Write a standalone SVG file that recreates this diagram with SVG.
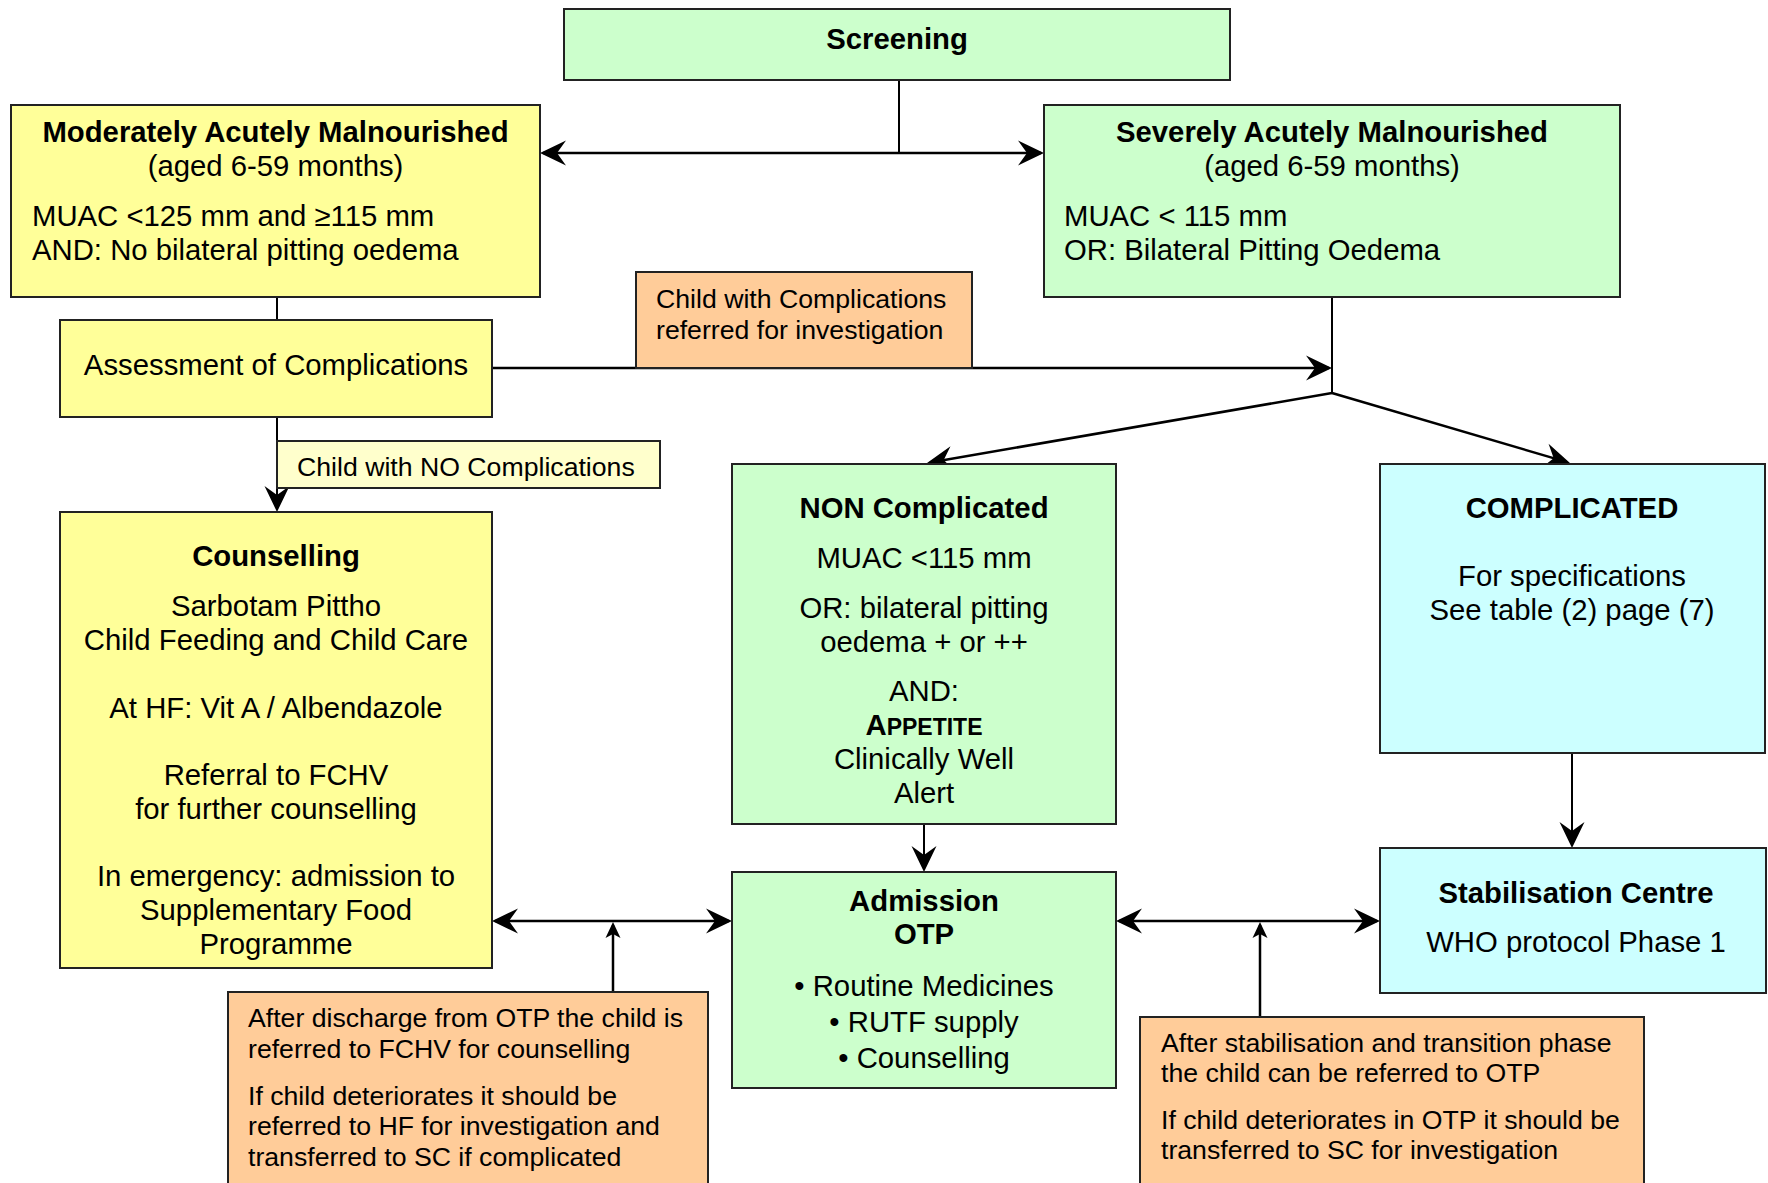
<svg xmlns="http://www.w3.org/2000/svg" width="1768" height="1183" viewBox="0 0 1768 1183">
<style>
text{font-family:"Liberation Sans",Arial,sans-serif;fill:#000}
.t{font-size:29.3px}
.s{font-size:26.67px}
.b{font-weight:bold}
.m{text-anchor:middle}
.box{stroke:#222;stroke-width:2}
.g{fill:#CCFFCC}.y{fill:#FFFF99}.ly{fill:#FFFFCC}.o{fill:#FFCC99}.c{fill:#CCFFFF}
.ln{stroke:#000;stroke-width:2.5;fill:none}
.a2{marker-start:url(#ah);marker-end:url(#ah)}
.a1{marker-end:url(#ah)}
.au{marker-end:url(#as)}
</style>
<defs>
<marker id="ah" viewBox="-30 -14 32 28" refX="-3" refY="0" markerWidth="32" markerHeight="28" markerUnits="userSpaceOnUse" orient="auto-start-reverse">
<path d="M0,0 L-26,-12.5 L-17,0 L-26,12.5 Z" fill="#000"/>
</marker>
<marker id="as" viewBox="-20 -10 22 20" refX="-3" refY="0" markerWidth="22" markerHeight="20" markerUnits="userSpaceOnUse" orient="auto">
<path d="M0,0 L-16,-7.5 L-12,0 L-16,7.5 Z" fill="#000"/>
</marker>
</defs>
<rect width="1768" height="1183" fill="#fff"/>
<g id="connectors">
<line class="ln" x1="899" y1="80" x2="899" y2="153" style="stroke-width:2"/>
<line class="ln a2" x1="543" y1="153" x2="1041" y2="153"/>
<line class="ln" x1="277" y1="297" x2="277" y2="320" style="stroke-width:2"/>
<line class="ln a1" x1="492" y1="368" x2="1329" y2="368"/>
<line class="ln" x1="1332" y1="297" x2="1332" y2="393" style="stroke-width:2"/>
<line class="ln a1" x1="1332" y1="393" x2="929.96" y2="462.49"/>
<line class="ln a1" x1="1332" y1="393" x2="1567.1" y2="462.15"/>
<line class="ln a1" x1="277" y1="417" x2="277" y2="509" style="stroke-width:2"/>
<line class="ln a1" x1="924" y1="824" x2="924" y2="869" style="stroke-width:2"/>
<line class="ln a1" x1="1572" y1="753" x2="1572" y2="845" style="stroke-width:2"/>
<line class="ln a2" x1="495" y1="921" x2="729" y2="921"/>
<line class="ln au" x1="613" y1="992" x2="613" y2="925"/>
<line class="ln a2" x1="1119" y1="921" x2="1377" y2="921"/>
<line class="ln au" x1="1260" y1="1017" x2="1260" y2="925"/>
</g>
<g id="screening">
<rect class="box g" x="564" y="9" width="666" height="71"/>
<text class="t b m" x="897" y="49">Screening</text>
</g>
<g id="mam">
<rect class="box y" x="11" y="105" width="529" height="192"/>
<text class="t b m" x="275.5" y="142">Moderately Acutely Malnourished</text>
<text class="t m" x="275.5" y="176">(aged 6-59 months)</text>
<text class="t" x="32" y="226">MUAC &lt;125 mm and ≥115 mm</text>
<text class="t" x="32" y="260">AND: No bilateral pitting oedema</text>
</g>
<g id="sam">
<rect class="box g" x="1044" y="105" width="576" height="192"/>
<text class="t b m" x="1332" y="142">Severely Acutely Malnourished</text>
<text class="t m" x="1332" y="176">(aged 6-59 months)</text>
<text class="t" x="1064" y="226">MUAC &lt; 115 mm</text>
<text class="t" x="1064" y="260">OR: Bilateral Pitting Oedema</text>
</g>
<g id="complications-referred">
<rect class="box o" x="636" y="272" width="336" height="96"/>
<text class="s" x="656" y="308">Child with Complications</text>
<text class="s" x="656" y="339">referred for investigation</text>
</g>
<g id="assessment">
<rect class="box y" x="60" y="320" width="432" height="97"/>
<text class="t m" x="276" y="375">Assessment of Complications</text>
</g>
<g id="no-complications">
<rect class="box ly" x="277" y="441" width="383" height="47"/>
<text class="s" x="297" y="476">Child with NO Complications</text>
</g>
<g id="counselling">
<rect class="box y" x="60" y="512" width="432" height="456"/>
<text class="t b m" x="276" y="566">Counselling</text>
<text class="t m" x="276" y="616">Sarbotam Pittho</text>
<text class="t m" x="276" y="650">Child Feeding and Child Care</text>
<text class="t m" x="276" y="718">At HF: Vit A / Albendazole</text>
<text class="t m" x="276" y="785">Referral to FCHV</text>
<text class="t m" x="276" y="819">for further counselling</text>
<text class="t m" x="276" y="886">In emergency: admission to</text>
<text class="t m" x="276" y="920">Supplementary Food</text>
<text class="t m" x="276" y="954">Programme</text>
</g>
<g id="non-complicated">
<rect class="box g" x="732" y="464" width="384" height="360"/>
<text class="t b m" x="924" y="518">NON Complicated</text>
<text class="t m" x="924" y="568">MUAC &lt;115 mm</text>
<text class="t m" x="924" y="618">OR: bilateral pitting</text>
<text class="t m" x="924" y="652">oedema + or ++</text>
<text class="t m" x="924" y="701">AND:</text>
<text class="t b m" x="924" y="735">A<tspan style="font-size:23px">PPETITE</tspan></text>
<text class="t m" x="924" y="769">Clinically Well</text>
<text class="t m" x="924" y="803">Alert</text>
</g>
<g id="complicated">
<rect class="box c" x="1380" y="464" width="385" height="289"/>
<text class="t b m" x="1572" y="518">COMPLICATED</text>
<text class="t m" x="1572" y="586">For specifications</text>
<text class="t m" x="1572" y="620">See table (2) page (7)</text>
</g>
<g id="admission-otp">
<rect class="box g" x="732" y="872" width="384" height="216"/>
<text class="t b m" x="924" y="911">Admission</text>
<text class="t b m" x="924" y="944">OTP</text>
<text class="t m" x="924" y="996">• Routine Medicines</text>
<text class="t m" x="924" y="1032">• RUTF supply</text>
<text class="t m" x="924" y="1068">• Counselling</text>
</g>
<g id="stabilisation">
<rect class="box c" x="1380" y="848" width="386" height="145"/>
<text class="t b m" x="1576" y="903">Stabilisation Centre</text>
<text class="t m" x="1576" y="952">WHO protocol Phase 1</text>
</g>
<g id="note-discharge">
<rect class="box o" x="228" y="992" width="480" height="200"/>
<text class="s" x="248" y="1027">After discharge from OTP the child is</text>
<text class="s" x="248" y="1058">referred to FCHV for counselling</text>
<text class="s" x="248" y="1105">If child deteriorates it should be</text>
<text class="s" x="248" y="1135">referred to HF for investigation and</text>
<text class="s" x="248" y="1166">transferred to SC if complicated</text>
</g>
<g id="note-stabilisation">
<rect class="box o" x="1140" y="1017" width="504" height="180"/>
<text class="s" x="1161" y="1052">After stabilisation and transition phase</text>
<text class="s" x="1161" y="1082">the child can be referred to OTP</text>
<text class="s" x="1161" y="1129">If child deteriorates in OTP it should be</text>
<text class="s" x="1161" y="1159">transferred to SC for investigation</text>
</g>
</svg>
